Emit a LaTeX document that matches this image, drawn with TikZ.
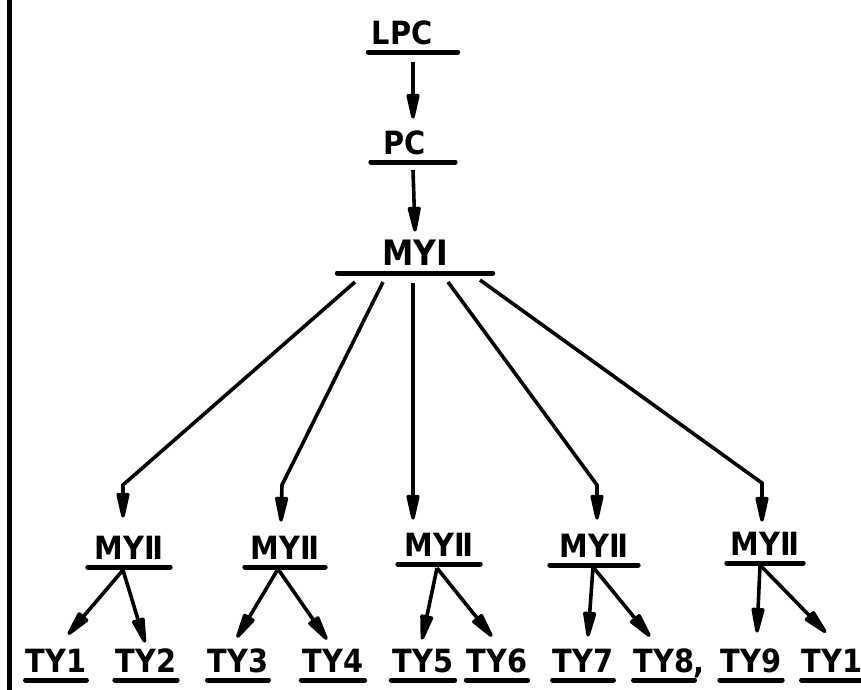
\documentclass[tikz,border=0pt]{standalone}
\usepackage{fontspec}
\newfontfamily\labfont{DejaVu Sans Condensed Bold}
\usetikzlibrary{arrows.meta,calc}
\tikzset{
  lab/.style={font=\labfont\fontsize{32}{32}\selectfont, anchor=south,
    inner xsep=0pt, inner ysep=7pt, text height=23pt, text depth=0pt,
    append after command={(\tikzlastnode.south west) edge[ul] (\tikzlastnode.south east)}},
  ul/.style={line width=5pt, line cap=round, draw=black},
  arr/.style={line width=3.6pt, -{Triangle[length=32pt,width=13pt,round]}},
}
\begin{document}
\begin{tikzpicture}[x=1pt,y=-1pt]
\useasboundingbox (0,0) rectangle (861,689);
\fill[white] (0,0) rectangle (861,689);
% left border
\draw[line width=5pt] (9.5,-5) -- (9.5,694);
% top nodes
\node[lab, minimum width=89pt] (LPC) at (413,52) {LPC\kern22pt};
\node[lab, minimum width=84pt] (PC) at (413,162) {PC\kern16pt};
\node[lab, minimum width=155pt] (MYI) at (415,273) {\fontsize{35}{35}\selectfont MYⅠ};
% level 2
\node[lab, minimum width=82pt] (M1) at (129,567) {MYⅡ};
\node[lab, minimum width=80pt] (M2) at (285,567) {MYⅡ};
\node[lab, minimum width=82pt] (M3) at (439,564) {MYⅡ};
\node[lab, minimum width=88pt] (M4) at (594,565) {MYⅡ};
\node[lab, minimum width=76pt] (M5) at (765,563) {MYⅡ};
% level 3
\node[lab, minimum width=57pt] (T1) at (56,680) {TY1};
\node[lab, minimum width=62pt] (T2) at (146,680) {TY2};
\node[lab, minimum width=60pt] (T3) at (238,680) {TY3};
\node[lab, minimum width=63pt] (T4) at (333,680) {TY4};
\node[lab, minimum width=63pt] (T5) at (423,680) {TY5};
\node[lab, minimum width=61pt] (T6) at (497,680) {TY6};
\node[lab, minimum width=59pt] (T7) at (583,680) {TY7};
\node[lab, minimum width=58pt] (T8) at (664,680) {TY8};
\node[font=\labfont\fontsize{32}{32}\selectfont, anchor=base, inner sep=0pt] (comma) at (699,673) {,};
\node[lab, minimum width=62pt] (T9) at (751,680) {TY9};
\node[lab, minimum width=78pt] (T10) at (842,680) {TY10};
% top arrows
\draw[arr] ([yshift=-10pt]LPC.south) -- ([yshift=6pt]PC.north);
\draw[arr] ([yshift=-8pt]PC.south) -- ([yshift=4pt]MYI.north);
% fan-out
\coordinate (b1) at (123,485);
\coordinate (b2) at (282,485);
\coordinate (b4) at (597,485);
\coordinate (b5) at (762,483);
\draw[arr] ($(MYI.south)+(-60,9)$) -- (b1) -- ($(M1.north)+(-6,-12)$);
\draw[arr] ($(MYI.south)+(-32,9)$) -- (b2) -- ($(M2.north)+(-4,-8)$);
\draw[arr] ($(MYI.south)+(-2,10)$) -- ($(M3.north)+(-26,-7)$);
\draw[arr] ($(MYI.south)+(33,9)$) -- (b4) -- ($(M4.north)+(3,-8)$);
\draw[arr] ($(MYI.south)+(65,7)$) -- (b5) -- ($(M5.north)+(-3,-4)$);
% bottom arrows
\draw[arr] ($(M1.south)+(-6,3)$) -- ($(T1.north)+(12,-8)$);
\draw[arr] ($(M1.south)+(-6,3)$) -- ($(T2.north)+(-1,0)$);
\draw[arr] ($(M2.south)+(-7,2)$) -- ($(T3.north)+(-1,-5)$);
\draw[arr] ($(M2.south)+(-7,2)$) -- ($(T4.north)+(-6,-3)$);
\draw[arr] ($(M3.south)+(-2,4)$) -- ($(T5.north)+(-1,-3)$);
\draw[arr] ($(M3.south)+(-2,4)$) -- ($(T6.north)+(-5,-6)$);
\draw[arr] ($(M4.south)+(-1,2)$) -- ($(T7.north)+(5,-6)$);
\draw[arr] ($(M4.south)+(-1,2)$) -- ($(T8.north)+(-14,-6)$);
\draw[arr] ($(M5.south)+(-5,2)$) -- ($(T9.north)+(6,-10)$);
\draw[arr] ($(M5.south)+(-5,2)$) -- ($(T10.north)+(-16,-10)$);
\end{tikzpicture}
\end{document}
